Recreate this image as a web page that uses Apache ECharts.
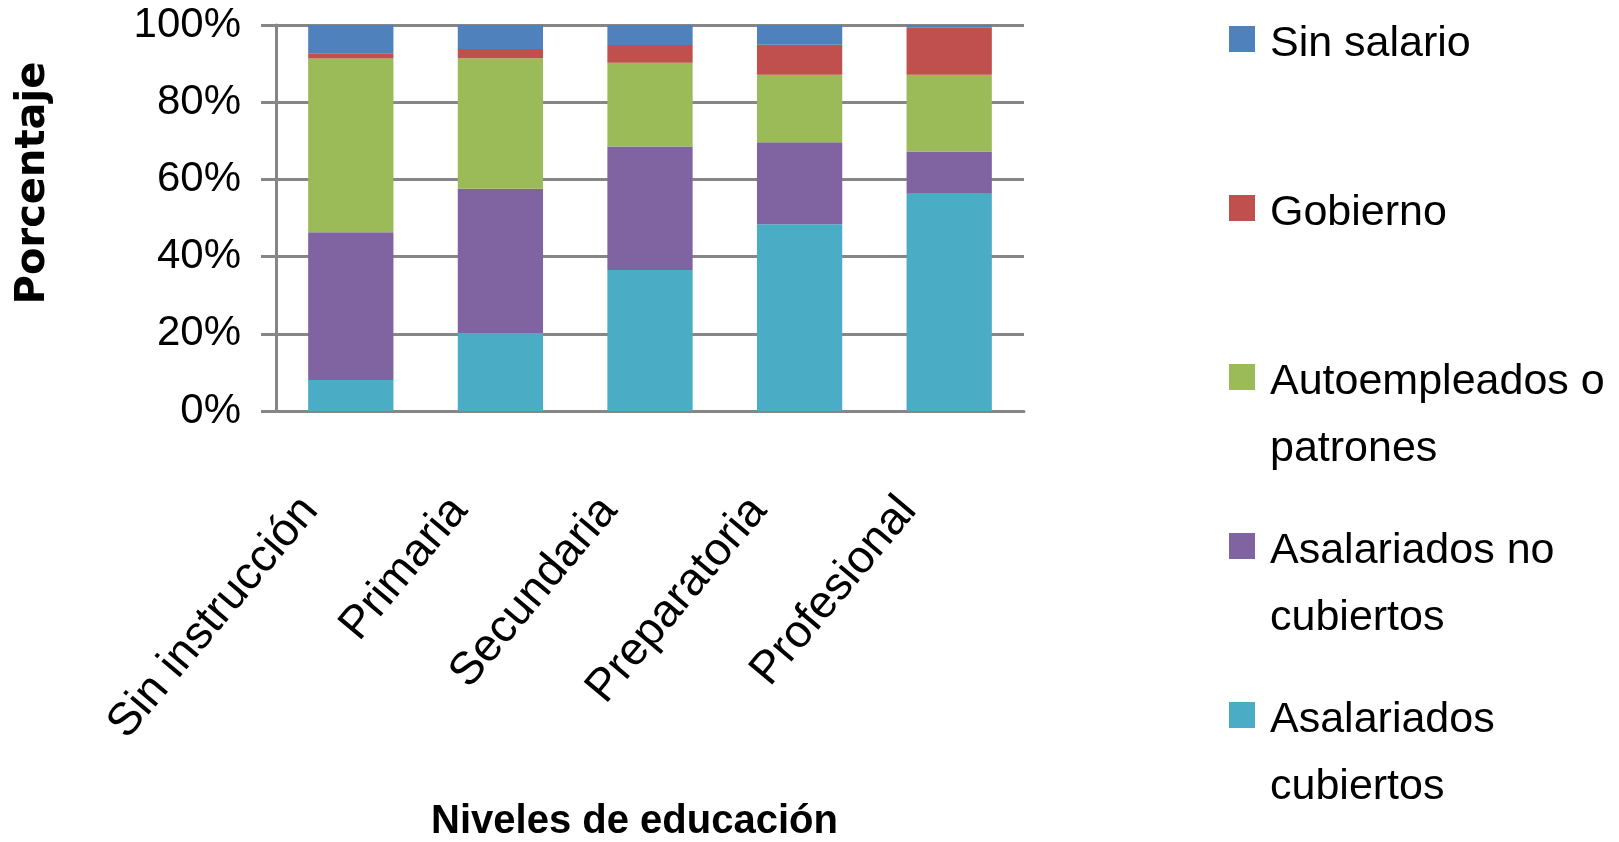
<!DOCTYPE html>
<html>
<head>
<meta charset="utf-8">
<script src="https://cdn.jsdelivr.net/npm/echarts@6/dist/echarts.min.js"></script>
<style>html,body{margin:0;padding:0;background:#fff}#c{width:1619px;height:842px}</style>
</head>
<body>
<div id="c"></div>
<script>
const categories = ['Sin instrucción', 'Primaria', 'Secundaria', 'Preparatoria', 'Profesional'];
const asalariadosCubiertos = [8.0, 20.2, 36.5, 48.4, 56.3];
const asalariadosNoCubiertos = [38.3, 37.4, 32.0, 21.2, 10.9];
const autoempleados = [45.0, 33.8, 21.7, 17.5, 19.9];
const gobierno = [1.4, 2.4, 4.6, 7.8, 12.2];
const sinSalario = [7.3, 6.2, 5.2, 5.1, 0.7];
const yTicks = [0, 20, 40, 60, 80, 100];
const legendOrder = ['Sin salario', 'Gobierno', 'Autoempleados o patrones', 'Asalariados no cubiertos', 'Asalariados cubiertos'];
const legendText = {
  'Sin salario': 'Sin salario\n ',
  'Gobierno': 'Gobierno\n ',
  'Autoempleados o patrones': 'Autoempleados o\npatrones',
  'Asalariados no cubiertos': 'Asalariados no\ncubiertos',
  'Asalariados cubiertos': 'Asalariados\ncubiertos'
};

const chart = echarts.init(document.getElementById('c'));
const gray = '#868686';
const font = '"Liberation Sans", Arial, sans-serif';
function bar(name, data, color) {
  return { name, type: 'bar', stack: 'total', data, barWidth: '57%', itemStyle: { color }, emphasis: { disabled: true } };
}
chart.setOption({
  animation: false,
  grid: { left: 276, right: 595, top: 25, bottom: 431, containLabel: false, outerBoundsMode: 'none' },
  legend: {
    data: legendOrder,
    orient: 'vertical',
    left: 1229,
    top: 11,
    padding: 0,
    itemWidth: 36,
    itemHeight: 104,
    itemGap: 35,
    icon: 'path://M0,0H26V26H0ZM36,104L36,103.99',
    formatter: n => legendText[n],
    selectedMode: false,
    textStyle: { fontFamily: font, fontSize: 43, lineHeight: 67, color: '#000' }
  },
  xAxis: {
    type: 'category',
    data: categories,
    name: 'Niveles de educación',
    nameLocation: 'middle',
    nameGap: 391,
    nameTextStyle: { fontFamily: font, fontWeight: 'bold', fontSize: 40, color: '#000', padding: [0, 31, 0, 0] },
    axisLine: { lineStyle: { color: gray, width: 3 } },
    axisTick: { show: false },
    axisLabel: { interval: 0, rotate: 50, margin: 43, padding: [0, 64, 0, 0], fontFamily: font, fontSize: 46, color: '#000' }
  },
  yAxis: {
    type: 'value',
    min: yTicks[0],
    max: yTicks[yTicks.length - 1],
    interval: 20,
    name: 'Porcentaje',
    nameLocation: 'middle',
    nameRotate: 90,
    nameGap: 222,
    nameTextStyle: { fontFamily: '"DejaVu Sans", sans-serif', fontWeight: 'bold', fontSize: 40, color: '#000', padding: [0, 0, 0, 70] },
    axisLine: { show: true, lineStyle: { color: gray, width: 3 } },
    axisTick: { show: true, length: 15, lineStyle: { color: gray, width: 3 } },
    splitLine: { lineStyle: { color: gray, width: 3 } },
    axisLabel: { formatter: '{value}%', margin: 35, fontFamily: font, fontSize: 42, color: '#000' }
  },
  series: [
    bar('Asalariados cubiertos', asalariadosCubiertos, '#4BACC6'),
    bar('Asalariados no cubiertos', asalariadosNoCubiertos, '#8064A2'),
    bar('Autoempleados o patrones', autoempleados, '#9BBB59'),
    bar('Gobierno', gobierno, '#C0504D'),
    bar('Sin salario', sinSalario, '#4F81BD')
  ]
});
</script>
</body>
</html>
